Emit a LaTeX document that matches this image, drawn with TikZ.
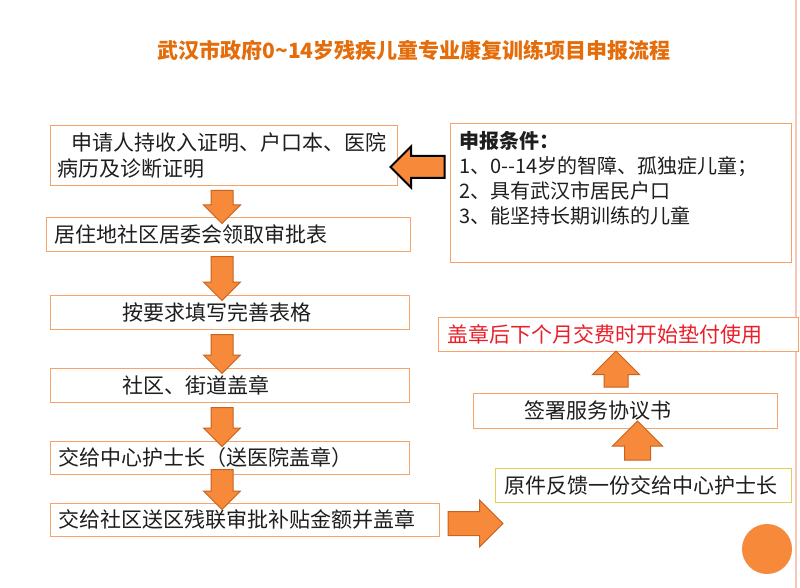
\documentclass[tikz,border=0pt]{standalone}
\usepackage{fontspec}
\setmainfont{Noto Sans CJK SC}
\usetikzlibrary{calc,shapes.arrows}

\definecolor{titleorange}{HTML}{E46C0A}
\definecolor{boxline}{HTML}{F5A26B}
\definecolor{arrfill}{HTML}{F7893B}
\definecolor{arrline}{HTML}{C8621E}
\definecolor{notered}{HTML}{EA1F2A}
\definecolor{backline}{HTML}{E2CE55}
\definecolor{sideline}{HTML}{F8C6B6}
\definecolor{textgray}{HTML}{1E1E1E}

\begin{document}
\begin{tikzpicture}[x=1pt,y=-1pt,
	box/.style={draw=boxline,line width=1pt,fill=white,inner sep=0pt},
	txt/.style={font=\fontsize{21}{26}\selectfont,text=textgray,inner sep=0pt,anchor=west,align=left},
	blockarrow/.style={single arrow,draw=arrline,fill=arrfill,line width=1pt,single arrow head indent=0pt},
	downarrow/.style={blockarrow,inner sep=10.5,single arrow head extend=7.5,rotate=-90},
	uparrow/.style={blockarrow,rotate=90}]
	\useasboundingbox (0,0) rectangle (800,588);
	\fill[white] (0,0) rectangle (800,588);
	\draw[sideline,line width=2pt] (796,0) -- (796,588);

	\node[font=\bfseries\fontsize{21}{25}\selectfont,text=titleorange] (title) at (414,50) {武汉市政府0\textasciitilde14岁残疾儿童专业康复训练项目申报流程};

	% left column
	\node[box,minimum width=347,minimum height=60] (b1) at (223.5,156) {};
	\node[box,minimum width=364,minimum height=34] (b2) at (228,234) {};
	\node[box,minimum width=359,minimum height=34] (b3) at (229.5,312) {};
	\node[box,minimum width=359,minimum height=34] (b4) at (229.5,385) {};
	\node[box,minimum width=359,minimum height=33] (b5) at (229.5,457.5) {};
	\node[box,minimum width=389,minimum height=33] (b6) at (244.5,519.5) {};
	\node[txt] (t1) at ([xshift=8]b1.west) {\hspace*{14pt}申请人持收入证明、户口本、医院\\病历及诊断证明};
	\node[txt] (t2) at ([xshift=9]b2.west) {居住地社区居委会领取审批表};
	\node[txt] (t3) at ([xshift=73]b3.west) {按要求填写完善表格};
	\node[txt] (t4) at ([xshift=73]b4.west) {社区、街道盖章};
	\node[txt] (t5) at ([xshift=9]b5.west) {交给中心护士长（送医院盖章）};
	\node[txt] (t6) at ([xshift=9]b6.west) {交给社区送区残联审批补贴金额并盖章};

	% right column
	\node[box,minimum width=341,minimum height=138] (cond) at (620.5,193) {};
	\node[txt,anchor=north west,font=\fontsize{20}{25}\selectfont] (tc) at ([xshift=10,yshift=-8]cond.north west) {\textbf{申报条件：}\\1、0{-}{-}14岁的智障、孤独症儿童；\\2、具有武汉市居民户口\\3、能坚持长期训练的儿童};
	\node[box,minimum width=360,minimum height=34] (note) at (618,334) {};
	\node[txt,text=notered] (tn) at ([xshift=10]note.west) {盖章后下个月交费时开始垫付使用};
	\node[box,minimum width=304,minimum height=35] (sign) at (625,410.5) {};
	\node[txt] (ts) at ([xshift=52]sign.west) {签署服务协议书};
	\node[box,draw=backline,minimum width=296,minimum height=34] (back) at (643,485) {};
	\node[txt] (tb) at ([xshift=10]back.west) {原件反馈一份交给中心护士长};

	% block arrows
	\node[downarrow,minimum height=31] (a1) at (222,201.5) {};
	\node[downarrow,minimum height=44] (a2) at (222,273) {};
	\node[downarrow,minimum height=39] (a3) at (222,348.5) {};
	\node[downarrow,minimum height=39] (a4) at (222,421.5) {};
	\node[downarrow,minimum height=40] (a5) at (222,484) {};
	\node[blockarrow,inner sep=11.5,minimum height=55,single arrow head extend=11.5] (ar) at (469.5,523.5) {};
	\node[uparrow,inner sep=12.5,minimum height=38,single arrow head extend=12] (u1) at (637.5,447) {};
	\node[uparrow,inner sep=11.5,minimum height=36,single arrow head extend=11.5] (u2) at (616,375) {};
	\node[blockarrow,draw=black,line width=2pt,inner sep=10,minimum height=54,single arrow head extend=9.5,rotate=180] (al) at (423,167) {};

	\fill[arrfill] (767,549) circle (25);
\end{tikzpicture}
\end{document}
